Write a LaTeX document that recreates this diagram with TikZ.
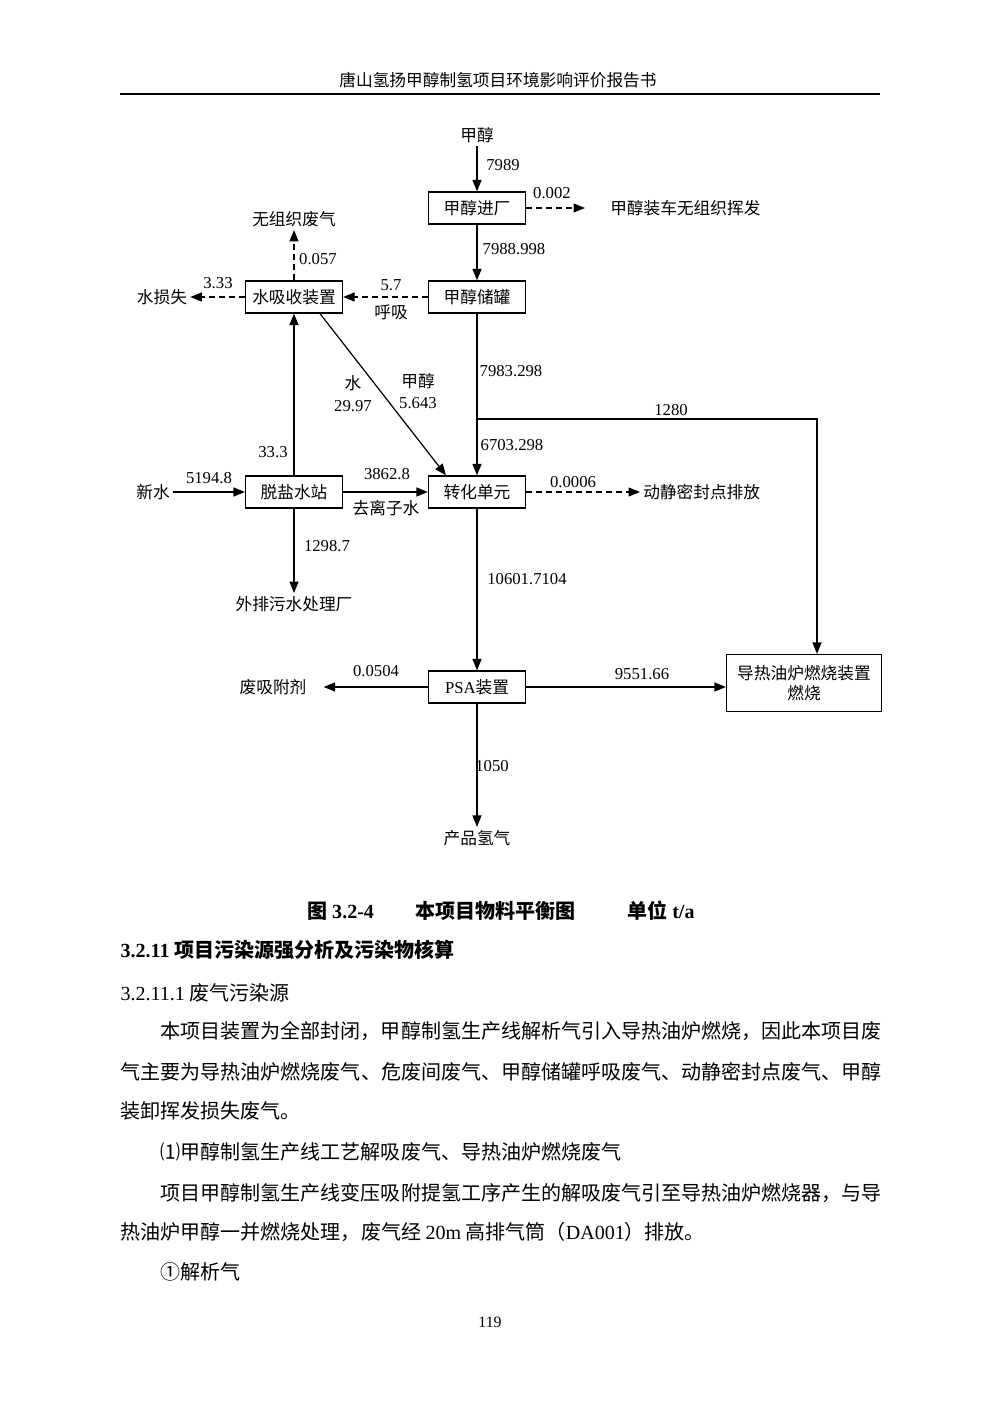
\documentclass[tikz,border=0pt]{standalone}
\usepackage{fontspec}
\setmainfont{Liberation Serif}
\newfontfamily\cjk{Noto Sans CJK SC}
\usetikzlibrary{arrows.meta,positioning,calc}

\begin{document}
\begin{tikzpicture}[x=0.2mm,y=-0.2mm,>={Triangle[length=2.3mm,width=1.8mm]},line width=0.7pt]
  \tikzstyle{unitBox}=[draw,line width=0.7pt,minimum width=19.4mm,minimum height=6.4mm,inner sep=0pt,align=center,font=\cjk\fontsize{9.5}{11.4}\selectfont]
  \tikzstyle{plainText}=[inner sep=1.5pt,font=\cjk\fontsize{9.5}{11.4}\selectfont]
  \tikzstyle{flowLabel}=[inner sep=0pt,font=\rmfamily\fontsize{9.5}{11.4}\selectfont]
  \tikzstyle{flow}=[->]
  \tikzstyle{leak}=[->,dash pattern=on 1.2mm off 0.8mm]
  \tikzstyle{bodyLine}=[anchor=west,inner sep=0pt,font=\cjk\fontsize{11.4}{14}\selectfont]
  \fill[white] (0,0) rectangle (1000,1414);
  \useasboundingbox (0,0) rectangle (1000,1414);

  % page header
  \node[plainText] (header) at (498,80) {唐山氢扬甲醇制氢项目环境影响评价报告书};
  \draw[line width=1.1pt] (120,94) -- (880,94);

  % units and end points
  \node[plainText] (ch3oh) at (477,135) {甲醇};
  \node[unitBox] (jinchang) at (477,208) {甲醇进厂};
  \node[plainText,anchor=west] (zhuangche) at (607,208) {甲醇装车无组织挥发};
  \node[unitBox] (chuguan) at (477,297) {甲醇储罐};
  \node[unitBox] (xishou) at (294,297) {水吸收装置};
  \node[plainText] (wuzuzhi) at (294,219) {无组织废气};
  \node[plainText] (sunshi) at (162,297) {水损失};
  \node[unitBox] (zhuanhua) at (477,492) {转化单元};
  \node[unitBox] (tuoyan) at (294,492) {脱盐水站};
  \node[plainText] (xinshui) at (153,492) {新水};
  \node[plainText] (waipai) at (294,604) {外排污水处理厂};
  \node[plainText,anchor=west] (dongjing) at (640,492) {动静密封点排放};
  \node[unitBox] (psa) at (477,687) {{\rmfamily PSA}装置};
  \node[plainText] (feixifu) at (273,687) {废吸附剂};
  \node[unitBox,minimum width=31mm,minimum height=11.4mm] (lu) at (804,683) {导热油炉燃烧装置\\燃烧};
  \node[plainText] (qingqi) at (477,838) {产品氢气};
  \coordinate (fork) at (477,419);

  % flows
  \draw[flow] (ch3oh) -- (jinchang);
  \draw[leak,shorten >=4.4mm] (jinchang) -- (zhuangche);
  \draw[flow] (jinchang) -- (chuguan);
  \draw[leak] (chuguan) -- (xishou);
  \draw[leak] (xishou) -- (wuzuzhi);
  \draw[leak] (xishou) -- (sunshi);
  \draw[flow] (chuguan) -- (zhuanhua);
  \draw[flow] (fork) -| ([xshift=2.6mm]lu.north);
  \draw[flow] ([xshift=5.2mm]xishou.south) -- ([xshift=-6.2mm]zhuanhua.north);
  \draw[flow] (xinshui) -- (tuoyan);
  \draw[flow] (tuoyan) -- (zhuanhua);
  \draw[flow] (tuoyan) -- (xishou);
  \draw[flow] (tuoyan) -- (waipai);
  \draw[leak] (zhuanhua) -- (dongjing);
  \draw[flow] (zhuanhua) -- (psa);
  \draw[flow,shorten >=2.8mm] (psa) -- (feixifu);
  \draw[flow] (psa) -- (psa -| lu.west);
  \draw[flow] (psa) -- (qingqi);

  % flow values
  \node[flowLabel] (v7989) at (503,165) {7989};
  \node[flowLabel] (v0002) at (552,193) {0.002};
  \node[flowLabel] (v7988) at (514,249) {7988.998};
  \node[flowLabel] (v57) at (391,285) {5.7};
  \node[plainText] (huxi) at (391,312) {呼吸};
  \node[flowLabel] (v0057) at (318,259) {0.057};
  \node[flowLabel] (v333) at (218,283) {3.33};
  \node[flowLabel] (v7983) at (511,371) {7983.298};
  \node[plainText] (shui) at (353,383) {水};
  \node[flowLabel] (v2997) at (353,406) {29.97};
  \node[plainText] (jiachun) at (418,381) {甲醇};
  \node[flowLabel] (v5643) at (418,403) {5.643};
  \node[flowLabel] (v1280) at (671,410) {1280};
  \node[flowLabel] (v6703) at (512,445) {6703.298};
  \node[flowLabel] (v333b) at (273,452) {33.3};
  \node[flowLabel] (v5194) at (209,478) {5194.8};
  \node[flowLabel] (v3862) at (387,474) {3862.8};
  \node[plainText] (quzi) at (386,508) {去离子水};
  \node[flowLabel] (v00006) at (573,482) {0.0006};
  \node[flowLabel] (v1298) at (327,546) {1298.7};
  \node[flowLabel] (v10601) at (527,579) {10601.7104};
  \node[flowLabel] (v0504) at (376,671) {0.0504};
  \node[flowLabel] (v9551) at (642,674) {9551.66};
  \node[flowLabel] (v1050) at (492,766) {1050};

  % caption and body text
  \node[bodyLine,font=\cjk\bfseries\fontsize{11.4}{14}\selectfont] (capA) at (307,911) {图 {\rmfamily 3.2-4}};
  \node[bodyLine,font=\cjk\bfseries\fontsize{11.4}{14}\selectfont] (capB) at (415,911) {本项目物料平衡图};
  \node[bodyLine,font=\cjk\bfseries\fontsize{11.4}{14}\selectfont] (capC) at (627,911) {单位 {\rmfamily t/a}};
  \node[bodyLine,font=\cjk\bfseries\fontsize{11.4}{14}\selectfont] (sec) at (120,950) {{\rmfamily 3.2.11} 项目污染源强分析及污染物核算};
  \node[bodyLine] (subsec) at (120,993) {{\rmfamily 3.2.11.1} 废气污染源};
  \node[bodyLine] (p1) at (160,1031) {本项目装置为全部封闭，甲醇制氢生产线解析气引入导热油炉燃烧，因此本项目废};
  \node[bodyLine] (p2) at (120,1072) {气主要为导热油炉燃烧废气、危废间废气、甲醇储罐呼吸废气、动静密封点废气、甲醇};
  \node[bodyLine] (p3) at (120,1111) {装卸挥发损失废气。};
  \node[bodyLine] (p4) at (160,1152) {⑴甲醇制氢生产线工艺解吸废气、导热油炉燃烧废气};
  \node[bodyLine] (p5) at (160,1193) {项目甲醇制氢生产线变压吸附提氢工序产生的解吸废气引至导热油炉燃烧器，与导};
  \node[bodyLine] (p6) at (120,1232) {热油炉甲醇一并燃烧处理，废气经 {\rmfamily 20m} 高排气筒（{\rmfamily DA001}）排放。};
  \node[bodyLine] (p7) at (160,1272) {①解析气};
  \node[flowLabel,font=\rmfamily\fontsize{9}{11}\selectfont] (pageno) at (490,1322) {119};
\end{tikzpicture}
\end{document}
